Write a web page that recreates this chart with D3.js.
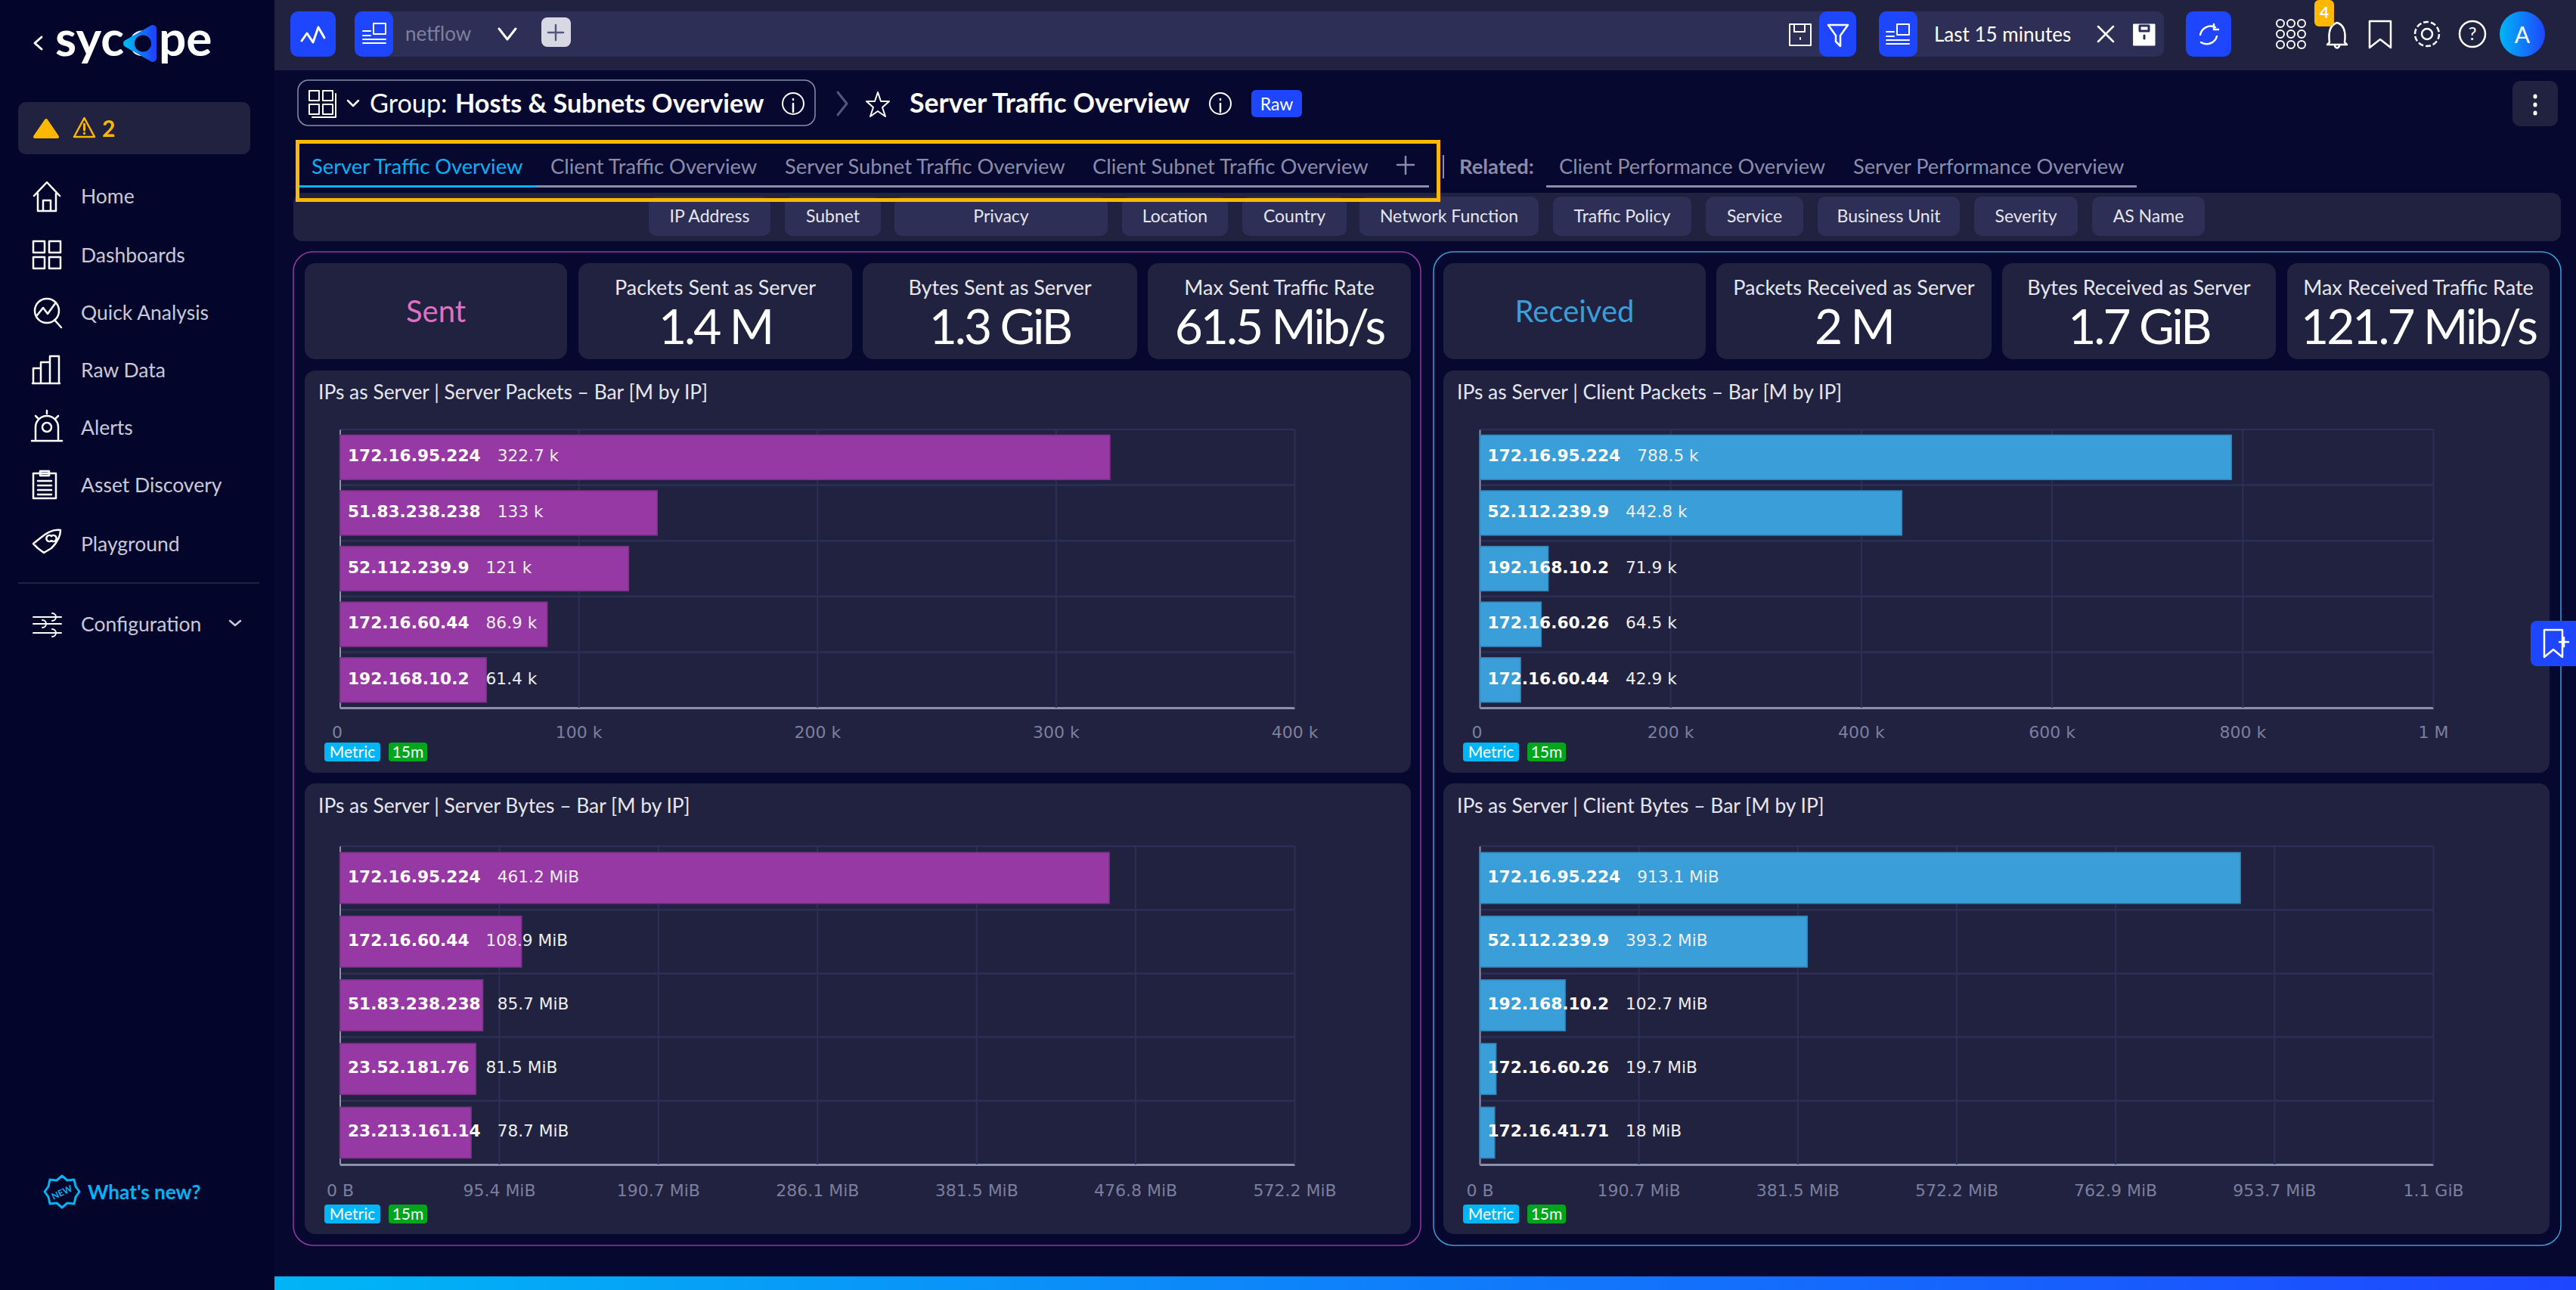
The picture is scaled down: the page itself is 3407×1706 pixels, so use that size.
<!DOCTYPE html>
<html>
<head>
<meta charset="utf-8">
<title>Server Traffic Overview</title>
<script src="https://cdn.jsdelivr.net/npm/d3@7"></script>
<style>
  html, body { margin: 0; padding: 0; background: #060830; overflow: hidden; }
  svg { display: block; }
</style>
</head>
<body>
<div id="page"></div>
<script>
// chart data
const sentPacketsIps = ['172.16.95.224', '51.83.238.238', '52.112.239.9', '172.16.60.44', '192.168.10.2'];
const sentPacketsValues = [322.7, 133, 121, 86.9, 61.4];
const sentPacketsLabels = ['322.7 k', '133 k', '121 k', '86.9 k', '61.4 k'];
const sentPacketsTicks = [0, 100, 200, 300, 400];
const sentPacketsTickLabels = ['0', '100 k', '200 k', '300 k', '400 k'];

const sentBytesIps = ['172.16.95.224', '172.16.60.44', '51.83.238.238', '23.52.181.76', '23.213.161.14'];
const sentBytesValues = [461.2, 108.9, 85.7, 81.5, 78.7];
const sentBytesLabels = ['461.2 MiB', '108.9 MiB', '85.7 MiB', '81.5 MiB', '78.7 MiB'];
const sentBytesTicks = [0, 95.4, 190.7, 286.1, 381.5, 476.8, 572.2];
const sentBytesTickLabels = ['0 B', '95.4 MiB', '190.7 MiB', '286.1 MiB', '381.5 MiB', '476.8 MiB', '572.2 MiB'];

const recvPacketsIps = ['172.16.95.224', '52.112.239.9', '192.168.10.2', '172.16.60.26', '172.16.60.44'];
const recvPacketsValues = [788.5, 442.8, 71.9, 64.5, 42.9];
const recvPacketsLabels = ['788.5 k', '442.8 k', '71.9 k', '64.5 k', '42.9 k'];
const recvPacketsTicks = [0, 200, 400, 600, 800, 1000];
const recvPacketsTickLabels = ['0', '200 k', '400 k', '600 k', '800 k', '1 M'];

const recvBytesIps = ['172.16.95.224', '52.112.239.9', '192.168.10.2', '172.16.60.26', '172.16.41.71'];
const recvBytesValues = [913.1, 393.2, 102.7, 19.7, 18];
const recvBytesLabels = ['913.1 MiB', '393.2 MiB', '102.7 MiB', '19.7 MiB', '18 MiB'];
const recvBytesTicks = [0, 190.7, 381.5, 572.2, 762.9, 953.7, 1144.4];
const recvBytesTickLabels = ['0 B', '190.7 MiB', '381.5 MiB', '572.2 MiB', '762.9 MiB', '953.7 MiB', '1.1 GiB'];

// texts of the page around the charts
const navNames = ['Home', 'Dashboards', 'Quick Analysis', 'Raw Data', 'Alerts', 'Asset Discovery', 'Playground'];
const tabNames = ['Server Traffic Overview', 'Client Traffic Overview', 'Server Subnet Traffic Overview', 'Client Subnet Traffic Overview'];
const relatedNames = ['Client Performance Overview', 'Server Performance Overview'];
const filterNames = ['IP Address', 'Subnet', 'Privacy', 'Location', 'Country', 'Network Function', 'Traffic Policy', 'Service', 'Business Unit', 'Severity', 'AS Name'];
const sentKpiTitles = ['Packets Sent as Server', 'Bytes Sent as Server', 'Max Sent Traffic Rate'];
const sentKpiValues = ['1.4 M', '1.3 GiB', '61.5 Mib/s'];
const recvKpiTitles = ['Packets Received as Server', 'Bytes Received as Server', 'Max Received Traffic Rate'];
const recvKpiValues = ['2 M', '1.7 GiB', '121.7 Mib/s'];

const WIDTH = 3407;
const HEIGHT = 1706;
const UI_FONT = 'Lato, sans-serif';
const CHART_FONT = '"DejaVu Sans", sans-serif';

const C = {
  side: '#04052a', main: '#060830', panel: '#20223f', field: '#2d2f56', blue: '#1e46ff',
  cyan: '#00b5f5', amber: '#ffb800', grey: '#8a8ca8', tick: '#7c7f9e', purple: '#9639a4', sky: '#3a9ed8',
  axis: '#8c90ad', text: '#c8c9d8', green: '#00a51e'
};

const svg = d3.select('#page').append('svg').attr('width', WIDTH).attr('height', HEIGHT);

const defs = svg.append('defs');
['bottomGrad', 'avatarGrad', 'logoGrad'].forEach(id => {
  const grad = defs.append('linearGradient').attr('id', id);
  grad.append('stop').attr('offset', 0).attr('stop-color', C.cyan);
  grad.append('stop').attr('offset', 1).attr('stop-color', C.blue);
});

function box(x0, y0, x1, y1, fill, r = 10) {
  return svg.append('rect').attr('x', x0).attr('y', y0).attr('width', x1 - x0).attr('height', y1 - y0)
    .attr('rx', r).attr('fill', fill);
}

function label(x, y, str, size, fill, opts = {}) {
  return svg.append('text').attr('x', x).attr('y', y).attr('dy', '.35em')
    .attr('font-family', opts.family || UI_FONT)
    .attr('font-size', size)
    .attr('font-weight', opts.weight || 400)
    .attr('text-anchor', opts.anchor || 'start')
    .attr('fill', fill)
    .text(str);
}

// line icon: path given in a local box, moved to x,y
function icon(x, y, d, color = '#fff', width = 2.5, fill = 'none') {
  return svg.append('path').attr('transform', `translate(${x},${y})`).attr('d', d)
    .attr('fill', fill).attr('stroke', color).attr('stroke-width', width)
    .attr('stroke-linejoin', 'round').attr('stroke-linecap', 'round');
}

// backgrounds
svg.append('rect').attr('width', WIDTH).attr('height', HEIGHT).attr('fill', C.main);
svg.append('rect').attr('width', 363).attr('height', HEIGHT).attr('fill', C.side);
svg.append('rect').attr('x', 363).attr('width', WIDTH - 363).attr('height', 93).attr('fill', C.panel);
svg.append('rect').attr('x', 363).attr('y', 1688).attr('width', WIDTH - 363).attr('height', 18).attr('fill', 'url(#bottomGrad)');

// ---- sidebar
icon(46, 49, 'M9 0 L0 8 L9 16', '#fff', 3);
const logo = svg.append('text').attr('y', 74).attr('font-family', UI_FONT).attr('font-size', 64)
  .attr('font-weight', 700).attr('fill', '#fff');
logo.append('tspan').attr('x', 73).text('syc');
logo.append('tspan').attr('x', 170).text('o');
logo.append('tspan').attr('x', 210).text('pe');
icon(0, 0, 'M168 57.5 L202 38 V77 Z', 'url(#logoGrad)', 10, 'url(#logoGrad)');
svg.append('circle').attr('cx', 189).attr('cy', 57.5).attr('r', 11).attr('fill', C.side);

box(24, 135, 331, 204, C.panel);
icon(46, 159, 'M15 0 L30 22 L0 22 Z', C.amber, 4, C.amber);
icon(98, 156, 'M13.5 0 L27 25 L0 25 Z', C.amber, 2.5);
icon(98, 156, 'M13.5 8 V16 M13.5 20 V20.5', C.amber, 3);
label(135, 170, '2', 30, C.amber, { weight: 700 });

const navY = [260, 338, 414, 490, 566, 642, 720];
const navIcons = [
  'M1 18 L18 0 L35 18 M6 15 V38 H30 V15 M13 38 V24 H23 V38',
  'M0 0 H15 V15 H0 Z M21 0 H36 V15 H21 Z M0 21 H15 V36 H0 Z M21 21 H36 V36 H21 Z',
  'M18 0 A16 16 0 1 0 18 32 A16 16 0 1 0 18 0 M5 22 L13 12 L19 20 L30 5 M28 28 L37 38',
  'M0 36 V16 H10 V36 M10 36 V8 H22 V36 M22 36 V0 H34 V36 M-1 36 H35',
  'M3 34 V18 A15 15 0 0 1 33 18 V34 M-2 36 H38 M18 -4 V0 M3 3 L6 6 M33 3 L30 6 M18 12 A6 6 0 1 1 18 24 A6 6 0 1 1 18 12',
  'M0 3 H30 V36 H0 Z M9 0 H21 V6 H9 Z M6 13 H24 M6 19 H24 M6 25 H24 M6 31 H24',
  'M0 18 L10 10 Q24 -2 36 0 Q36 12 24 24 L14 30 L6 24 Z M24 8 A4 4 0 1 1 24 14 A4 4 0 1 1 24 8'
];
navNames.forEach((name, i) => {
  icon(44, navY[i] - 19, navIcons[i]);
  label(107, navY[i], name, 26.5, C.text);
});
svg.append('line').attr('x1', 24).attr('x2', 343).attr('y1', 771).attr('y2', 771).attr('stroke', C.panel).attr('stroke-width', 2);
icon(44, 810, 'M0 6 H37 M0 15 H37 M0 27 H37 M25 1 A5 5 0 1 1 25 11 M12 10 A5 5 0 1 1 12 20 M25 22 A5 5 0 1 1 25 32', '#fff', 2);
label(107, 826, 'Configuration', 26.5, C.text);
icon(304, 821, 'M0 0 L7 6 L14 0', C.text, 2.5);
icon(59, 1555, 'M23 0 L30 6 L39 5 L41 14 L46 21 L41 28 L39 37 L30 36 L23 42 L16 36 L7 37 L5 28 L0 21 L5 14 L7 5 L16 6 Z', C.cyan, 3);
label(82, 1577, 'NEW', 12, C.cyan, { weight: 700, anchor: 'middle' }).attr('transform', 'rotate(-25 82 1577)');
label(116, 1577, "What's new?", 26.2, C.cyan, { weight: 700 });

// ---- top bar
box(384, 15, 444, 75, C.blue);
icon(399, 36, 'M0 18 L7 8 L15 20 L22 0 L30 14', '#fff', 3);
box(469, 15, 2455, 75, C.field);
box(469, 15, 520, 75, C.blue);
const docIcon = 'M14 0 H30 V14 H14 Z M0 10 H10 M0 16 H10 M0 21 H30 M0 26 H30';
icon(480, 31, docIcon, '#fff', 2);
label(536, 45, 'netflow', 26, '#7d80a0');
icon(660, 38, 'M0 0 L11 14 L22 0', '#fff', 3);
box(716, 23, 755, 62, '#d8d8e4', 8);
icon(725, 33, 'M10 0 V20 M0 10 H20', '#55577a', 2.5);
icon(2367, 32, 'M0 0 H28 V28 H0 Z M6 0 V10 H20 V0 M14 18 V20', '#fff', 2);
box(2406, 15, 2455, 75, C.blue);
icon(2418, 33, 'M0 0 H26 L16 14 V28 L10 22 V14 Z', '#fff', 2.5);

box(2485, 15, 2862, 75, C.field);
box(2485, 15, 2536, 75, C.blue);
icon(2495, 32, docIcon, '#fff', 2);
label(2558, 46, 'Last 15 minutes', 26, '#fff');
icon(2775, 35, 'M0 0 L20 20 M20 0 L0 20', '#fff', 2.5);
icon(2822, 32, 'M0 0 H28 V28 H0 Z', '#fff', 1, '#fff');
icon(2828, 33, 'M2 1 H14 V8 H2 Z M8 14 V18', C.field, 3);
box(2891, 15, 2951, 75, C.blue);
icon(2908, 32, 'M22 4 A14 14 0 0 0 2 14 M3 24 A14 14 0 0 0 24 16 M20 0 V7 H26', '#fff', 2.5);
d3.range(3).forEach(row => d3.range(3).forEach(col => {
  svg.append('circle').attr('cx', 3016 + col * 14).attr('cy', 31 + row * 14).attr('r', 5)
    .attr('fill', 'none').attr('stroke', '#fff').attr('stroke-width', 2);
}));
icon(3078, 30, 'M13 0 Q0 4 3 26 L0 29 H26 L23 26 Q26 4 13 0 M10 31 Q13 36 16 31', '#fff', 2.5);
box(3061, 0, 3087, 35, C.amber, 6);
label(3074, 17, '4', 21, '#fff', { anchor: 'middle', weight: 700 });
icon(3134, 28, 'M0 0 H28 V35 L14 24 L0 35 Z', '#fff', 2.5);
svg.append('circle').attr('cx', 3210).attr('cy', 45).attr('r', 16).attr('fill', 'none').attr('stroke', '#fff').attr('stroke-width', 2.5).attr('stroke-dasharray', '7 3');
svg.append('circle').attr('cx', 3210).attr('cy', 45).attr('r', 7).attr('fill', 'none').attr('stroke', '#fff').attr('stroke-width', 2.5);
svg.append('circle').attr('cx', 3270).attr('cy', 45).attr('r', 17).attr('fill', 'none').attr('stroke', '#fff').attr('stroke-width', 2.5);
label(3270, 45, '?', 24, '#fff', { anchor: 'middle' });
svg.append('circle').attr('cx', 3336).attr('cy', 45).attr('r', 30).attr('fill', 'url(#avatarGrad)');
label(3336, 46, 'A', 30, '#fff', { anchor: 'middle' });

// ---- heading
box(394, 106, 1078, 166, 'none', 14).attr('stroke', C.grey).attr('stroke-width', 1.5);
icon(409, 120, 'M0 0 H13 V13 H0 Z M18 0 H31 V13 H18 Z M0 18 H13 V31 H0 Z M18 18 H31 V31 H18 Z M35 4 V35 H4', '#fff', 2);
icon(460, 133, 'M0 0 L7 7 L14 0', '#fff', 2.5);
label(489, 137, 'Group:', 34.2, '#fff');
label(602, 137, 'Hosts & Subnets Overview', 34.2, '#fff', { weight: 700 });
function infoIcon(cx) {
  svg.append('circle').attr('cx', cx).attr('cy', 137).attr('r', 14).attr('fill', 'none').attr('stroke', '#fff').attr('stroke-width', 2);
  icon(cx, 131, 'M0 0 V1 M0 6 V17', '#fff', 2.5);
}
infoIcon(1049);
icon(1108, 122, 'M0 0 L12 15 L0 30', '#55577a', 3);
icon(1147, 122, 'M14 0 L18 12 L29 12 L20 20 L24 32 L14 25 L4 32 L8 20 L-1 12 L10 12 Z', '#fff', 2);
label(1203, 137, 'Server Traffic Overview', 35.6, '#fff', { weight: 700 });
infoIcon(1614);
box(1655, 119, 1722, 155, C.blue, 6);
label(1688.5, 138, 'Raw', 23, '#fff', { anchor: 'middle' });
box(3323, 107, 3383, 167, C.panel);
icon(3353, 127, 'M0 0 V1 M0 11 V12 M0 22 V23', '#fff', 5);

// ---- tabs and related links
const tabX = [412, 728, 1038, 1445];
tabNames.forEach((name, i) => label(tabX[i], 220, name, 27.3, i === 0 ? C.cyan : C.grey));
svg.append('rect').attr('x', 396).attr('y', 245).attr('width', 1494).attr('height', 3).attr('fill', C.grey);
svg.append('rect').attr('x', 396).attr('y', 245).attr('width', 313).attr('height', 3).attr('fill', C.cyan);
icon(1848, 207, 'M11 0 V23 M0 11 H22', C.grey, 2.5);

svg.append('line').attr('x1', 1909).attr('x2', 1909).attr('y1', 205).attr('y2', 236).attr('stroke', C.grey).attr('stroke-width', 2);
label(1930, 220, 'Related:', 27.3, C.grey, { weight: 700 });
const relatedX = [2062, 2451];
relatedNames.forEach((name, i) => label(relatedX[i], 220, name, 27.2, C.grey));
svg.append('rect').attr('x', 2045).attr('y', 245).attr('width', 781).attr('height', 3).attr('fill', C.grey);

// ---- filter bar
box(388, 255, 3387, 319, C.panel, 12);
const filterEdges = [[858, 1019], [1038, 1165], [1183, 1465], [1484, 1624], [1643, 1781], [1798, 2035], [2054, 2237], [2256, 2385], [2404, 2592], [2611, 2748], [2767, 2916]];
filterNames.forEach((name, i) => {
  const [x0, x1] = filterEdges[i];
  box(x0, 260, x1, 312, C.field, 10);
  label((x0 + x1) / 2, 286, name, 23, '#e6e6ee', { anchor: 'middle' });
});

// the highlight around the tabs goes above the filter bar
svg.append('rect').attr('x', 393.5).attr('y', 187.5).attr('width', 1509).attr('height', 77)
  .attr('fill', 'none').attr('stroke', C.amber).attr('stroke-width', 5);

// ---- one bar chart
function barChart(cfg) {
  const { left, right, top, bottom, color, ips, values, valueLabels, ticks, tickLabels, domainMax, padTick } = cfg;
  const g = svg.append('g');

  const x = d3.scaleLinear().domain([0, domainMax]).range([left, right]);
  const y = d3.scaleBand().domain(ips).range([top, bottom]).paddingInner(0.2).paddingOuter(0.1);
  const step = y.step();

  // grid between the bands
  g.selectAll('line.band').data(d3.range(ips.length + 1)).join('line')
    .attr('class', 'band')
    .attr('x1', left).attr('x2', right)
    .attr('y1', i => top + i * step).attr('y2', i => top + i * step)
    .attr('stroke', C.field).attr('stroke-width', 2.5);

  const xAxis = d3.axisBottom(x)
    .tickValues(ticks)
    .tickFormat((d, i) => tickLabels[i])
    .tickSizeInner(-(bottom - top))
    .tickSizeOuter(0)
    .tickPadding(padTick);

  const xG = g.append('g').attr('transform', `translate(0,${bottom})`).call(xAxis);
  xG.selectAll('.tick line').attr('stroke', C.field).attr('stroke-width', 2);
  xG.selectAll('.tick text').attr('fill', C.tick).attr('font-family', CHART_FONT).attr('font-size', 22)
    .attr('dx', (d, i) => tickLabels[i] === '0' ? -4 : 0);
  xG.select('.domain').attr('stroke', C.axis).attr('stroke-width', 3);

  const yG = g.append('g').attr('transform', `translate(${left},0)`)
    .call(d3.axisLeft(y).tickSize(0).tickFormat(''));
  yG.select('.domain').attr('stroke', C.axis).attr('stroke-width', 2);

  g.selectAll('rect.bar').data(ips).join('rect')
    .attr('class', 'bar')
    .attr('x', left)
    .attr('y', d => y(d))
    .attr('width', (d, i) => x(values[i]) - left)
    .attr('height', y.bandwidth())
    .attr('fill', color)
    .attr('stroke', d3.color(color).darker(0.5))
    .attr('stroke-width', 1.5);

  const txt = g.selectAll('text.val').data(ips).join('text')
    .attr('class', 'val')
    .attr('x', left + 10.5)
    .attr('y', d => y(d) + y.bandwidth() / 2 - 2)
    .attr('dy', '.35em')
    .attr('font-family', CHART_FONT)
    .attr('font-size', 21.7)
    .attr('fill', '#fff');
  txt.append('tspan').attr('font-weight', 700).text(d => d);
  txt.append('tspan').attr('dx', 22).attr('fill', '#eee').text((d, i) => valueLabels[i]);
}

function chartCard(cfg) {
  box(cfg.x0, cfg.y0, cfg.x1, cfg.y1, C.panel, 14);
  label(cfg.x0 + 18, cfg.y0 + cfg.titleDy, cfg.title, 26.4, '#e6e6ee');
  barChart(Object.assign({ left: cfg.x0 + cfg.axisOffset }, cfg));
  box(cfg.x0 + 26, cfg.tagY, cfg.x0 + 100, cfg.tagY + 25, C.cyan, 4);
  label(cfg.x0 + 63, cfg.tagY + 12.5, 'Metric', 21, '#fff', { anchor: 'middle' });
  box(cfg.x0 + 111, cfg.tagY, cfg.x0 + 162, cfg.tagY + 25, C.green, 4);
  label(cfg.x0 + 136.5, cfg.tagY + 12.5, '15m', 21, '#fff', { anchor: 'middle' });
}

function kpiColumn(frame, color, heading, titles, vals, cards) {
  box(frame[0], frame[1], frame[2], frame[3], 'none', 26).attr('stroke', color).attr('stroke-width', 1.5);
  const [x0, x1] = cards[0];
  box(x0, 348, x1, 475, C.panel, 14);
  label((x0 + x1) / 2, 412, heading, 40, heading === 'Sent' ? '#e070c0' : color, { anchor: 'middle' });
  titles.forEach((t, i) => {
    const [a, b] = cards[i + 1];
    box(a, 348, b, 475, C.panel, 14);
    label((a + b) / 2, 381, t, 27, '#e6e6ee', { anchor: 'middle' });
    label((a + b) / 2, 433, vals[i], 64, '#fff', { anchor: 'middle', weight: 400 })
      .attr('letter-spacing', -3);
  });
}

kpiColumn([388, 333, 1879, 1647], C.purple, 'Sent', sentKpiTitles, sentKpiValues,
  [[403, 750], [765, 1127], [1141, 1504], [1518, 1866]]);
kpiColumn([1896, 333, 3387, 1647], C.sky, 'Received', recvKpiTitles, recvKpiValues,
  [[1909, 2256], [2270, 2634], [2648, 3010], [3025, 3372]]);

chartCard({
  x0: 403, x1: 1866, y0: 490, y1: 1022, axisOffset: 46.5, right: 1712, top: 568, bottom: 936, tagY: 982, padTick: 24, titleDy: 29,
  title: 'IPs as Server | Server Packets – Bar [M by IP]', color: C.purple,
  ips: sentPacketsIps, values: sentPacketsValues, valueLabels: sentPacketsLabels,
  ticks: sentPacketsTicks, tickLabels: sentPacketsTickLabels, domainMax: 400
});
chartCard({
  x0: 403, x1: 1866, y0: 1036, y1: 1632, axisOffset: 46.5, right: 1712, top: 1119, bottom: 1540, tagY: 1593, padTick: 26, titleDy: 30,
  title: 'IPs as Server | Server Bytes – Bar [M by IP]', color: C.purple,
  ips: sentBytesIps, values: sentBytesValues, valueLabels: sentBytesLabels,
  ticks: sentBytesTicks, tickLabels: sentBytesTickLabels, domainMax: 572.2
});
chartCard({
  x0: 1909, x1: 3372, y0: 490, y1: 1022, axisOffset: 48, right: 3218, top: 568, bottom: 936, tagY: 982, padTick: 24, titleDy: 29,
  title: 'IPs as Server | Client Packets – Bar [M by IP]', color: C.sky,
  ips: recvPacketsIps, values: recvPacketsValues, valueLabels: recvPacketsLabels,
  ticks: recvPacketsTicks, tickLabels: recvPacketsTickLabels, domainMax: 1000
});
chartCard({
  x0: 1909, x1: 3372, y0: 1036, y1: 1632, axisOffset: 48, right: 3218, top: 1119, bottom: 1540, tagY: 1593, padTick: 26, titleDy: 30,
  title: 'IPs as Server | Client Bytes – Bar [M by IP]', color: C.sky,
  ips: recvBytesIps, values: recvBytesValues, valueLabels: recvBytesLabels,
  ticks: recvBytesTicks, tickLabels: recvBytesTickLabels, domainMax: 1144.4
});

// blue bookmark tab on the right edge
box(3347, 821, 3420, 881, C.blue, 8);
icon(3365, 833, 'M0 0 H24 V36 L12 26 L0 36 Z M20 16 H32 M26 10 V22', '#fff', 2.5);
</script>
</body>
</html>
